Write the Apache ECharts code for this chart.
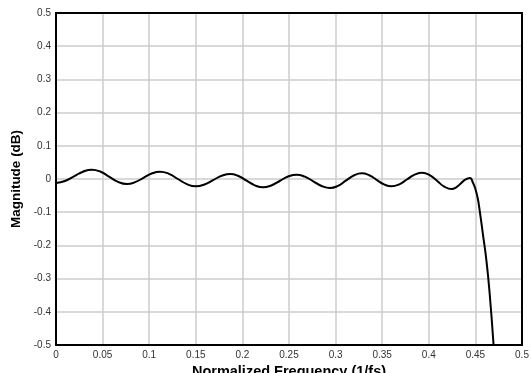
<!DOCTYPE html>
<html>
<head>
<meta charset="utf-8">
<script src="https://cdn.jsdelivr.net/npm/echarts@6/dist/echarts.min.js"></script>
<style>html,body{margin:0;padding:0;background:#fff}#c{width:531px;height:373px}</style>
</head>
<body>
<div id="c"></div>
<script>
var freq = [0, 0.0096, 0.0193, 0.0289, 0.0385, 0.0479, 0.0573, 0.0666, 0.076, 0.0849, 0.0938, 0.1027, 0.1116,
  0.1212, 0.1308, 0.1404, 0.15, 0.1593, 0.1685, 0.1778, 0.187, 0.1958, 0.2045, 0.2133, 0.222,
  0.231, 0.24, 0.249, 0.258, 0.267, 0.276, 0.285, 0.294, 0.3025, 0.311, 0.3195, 0.328,
  0.336, 0.344, 0.352, 0.36, 0.3683, 0.3765, 0.3848, 0.393, 0.4009, 0.4088, 0.4166, 0.4245,
  0.4294, 0.4343, 0.4391, 0.444, 0.4475, 0.45, 0.4525, 0.4546, 0.458, 0.4618, 0.4653, 0.4695];
var magnitude = [-0.012, -0.006, 0.008, 0.022, 0.028, 0.0217, 0.0065, -0.0087, -0.015, -0.0096, 0.0035, 0.0166, 0.022,
  0.0156, 0, -0.0156, -0.022, -0.0166, -0.0035, 0.0096, 0.015, 0.009, -0.005, -0.019, -0.025,
  -0.0194, -0.006, 0.0074, 0.013, 0.007, -0.007, -0.021, -0.027, -0.0206, -0.005, 0.0106, 0.017,
  0.0113, -0.0025, -0.0163, -0.022, -0.016, -0.0015, 0.013, 0.019, 0.0118, -0.0055, -0.0228, -0.03,
  -0.025, -0.0135, -0.002, 0.003, -0.012, -0.03, -0.058, -0.095, -0.165, -0.245, -0.345, -0.5];
var xTicks = ['0', '0.05', '0.1', '0.15', '0.2', '0.25', '0.3', '0.35', '0.4', '0.45', '0.5'];
var yTicks = ['-0.5', '-0.4', '-0.3', '-0.2', '-0.1', '0', '0.1', '0.2', '0.3', '0.4', '0.5'];

var pts = freq.map(function (f, i) { return [f, magnitude[i]]; });
var chart = echarts.init(document.getElementById('c'), null, {renderer: 'canvas'});
var FF = 'Liberation Sans, Arial, sans-serif';
var lbl = {color: '#333', fontSize: 10, fontFamily: FF};
var frameAxis = {
  type: 'value', axisLine: {show: true, onZero: false, lineStyle: {color: '#000', width: 2}},
  axisTick: {show: false}, axisLabel: {show: false}, splitLine: {show: false}
};
chart.setOption({
  animation: false,
  grid: {left: 56, right: 9, top: 13, bottom: 28, outerBoundsMode: 'none', containLabel: false},
  xAxis: [{
    type: 'value', min: 0, max: 0.5, interval: 0.05, position: 'bottom',
    name: 'Normalized Frequency (1/fs)', nameLocation: 'middle', nameGap: 16,
    nameTextStyle: {color: '#000', fontSize: 14.5, fontWeight: 'bold', fontFamily: FF},
    axisLine: {show: true, onZero: false, lineStyle: {color: '#000', width: 2}},
    axisTick: {show: false},
    axisLabel: Object.assign({margin: 5, formatter: function (v) { return xTicks[Math.round(v / 0.05)]; }}, lbl),
    splitLine: {show: true, lineStyle: {color: '#cccccc', width: 1.5}}
  }, Object.assign({min: 0, max: 0.5, position: 'top'}, frameAxis)],
  yAxis: [{
    type: 'value', min: -0.5, max: 0.5, interval: 0.1, position: 'left',
    name: 'Magnitude (dB)', nameLocation: 'middle', nameGap: 29,
    nameTextStyle: {color: '#000', fontSize: 13.5, fontWeight: 'bold', fontFamily: FF},
    axisLine: {show: true, onZero: false, lineStyle: {color: '#000', width: 2}},
    axisTick: {show: false},
    axisLabel: Object.assign({margin: 5, formatter: function (v) { return yTicks[Math.round((v + 0.5) / 0.1)]; }}, lbl),
    splitLine: {show: true, lineStyle: {color: '#cccccc', width: 1.5}}
  }, Object.assign({min: -0.5, max: 0.5, position: 'right'}, frameAxis)],
  series: [{
    type: 'line', data: pts, smooth: 0.5, showSymbol: false, clip: true,
    lineStyle: {color: '#000', width: 2}
  }]
});
</script>
</body>
</html>
